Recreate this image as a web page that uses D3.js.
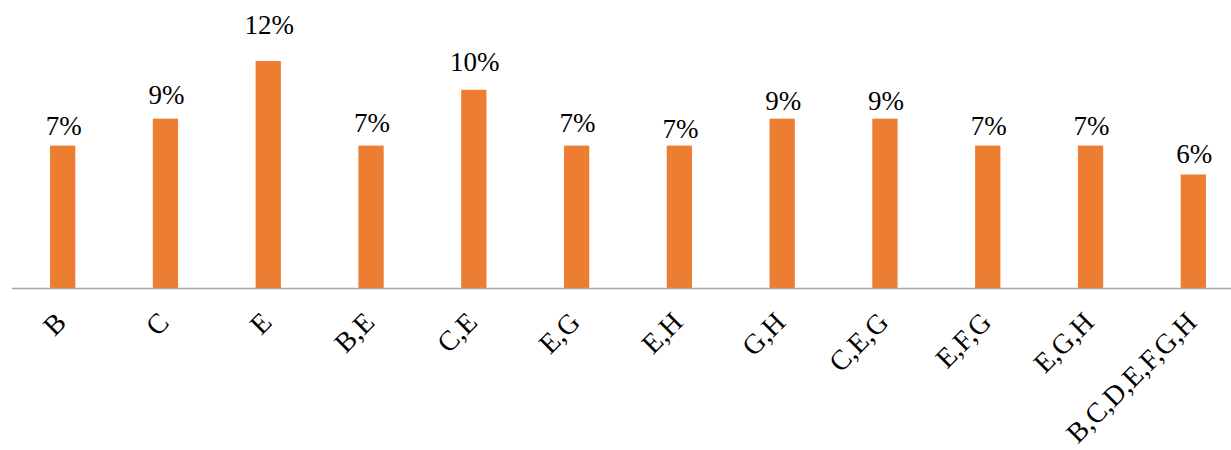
<!DOCTYPE html>
<html>
<head>
<meta charset="utf-8">
<script src="https://cdn.jsdelivr.net/npm/d3@7/dist/d3.min.js"></script>
<style>
  html, body { margin: 0; padding: 0; background: #ffffff; }
  svg { display: block; }
</style>
</head>
<body>
<svg id="chart" width="1231" height="450"></svg>
<script>
// Share of each combination
const categories = ["B", "C", "E", "B,E", "C,E", "E,G", "E,H", "G,H", "C,E,G", "E,F,G", "E,G,H", "B,C,D,E,F,G,H"];
const values = [0.074, 0.088, 0.118, 0.074, 0.103, 0.074, 0.074, 0.088, 0.088, 0.074, 0.074, 0.059];
const yDomain = [0, 0.14];

// Lift of each value label above its bar (px), as hand-placed in the layout
const labelLift = [11, 14.7, 27, 13.3, 18.6, 13.3, 7.7, 8.7, 8.7, 11, 11, 11.4];

const svg = d3.select("#chart");
const baseY = 288;
const valueFont = 27;
const catFont = 28;
const serif = "'Liberation Serif', 'Times New Roman', Times, serif";

const x = d3.scaleBand()
  .domain(categories)
  .range([11.3, 1244.7])
  .paddingInner(0.754)
  .paddingOuter(0.377);

const y = d3.scaleLinear()
  .domain(yDomain)
  .range([baseY, baseY - 0.14 * 1924]);

const data = categories.map((c, i) => ({ cat: c, val: values[i], lift: labelLift[i] }));
const pct = d3.format(".0%");

// Bars
svg.append("g")
  .selectAll("rect")
  .data(data)
  .join("rect")
  .attr("x", d => x(d.cat))
  .attr("y", d => y(d.val))
  .attr("width", x.bandwidth())
  .attr("height", d => y(0) - y(d.val))
  .attr("fill", "#ED7D31");

// Value labels
svg.append("g")
  .selectAll("text")
  .data(data)
  .join("text")
  .attr("x", d => x(d.cat) + x.bandwidth() / 2 + 1)
  .attr("y", d => y(d.val) - d.lift)
  .attr("text-anchor", "middle")
  .attr("fill", "#000")
  .style("font-family", serif)
  .style("font-size", valueFont + "px")
  .text(d => pct(d.val));

// Category axis
const axis = svg.append("g")
  .attr("transform", `translate(0,${baseY})`)
  .call(d3.axisBottom(x).tickSize(0).tickSizeOuter(0))
  .attr("font-family", serif);

axis.select(".domain")
  .attr("stroke", "#A6A6A6")
  .attr("stroke-width", 1.5);

axis.selectAll(".tick text")
  .attr("x", null)
  .attr("y", 0)
  .attr("dy", null)
  .attr("text-anchor", "end")
  .attr("transform", "translate(5,36) rotate(-45)")
  .style("font-size", catFont + "px")
  .style("font-family", serif)
  .attr("fill", "#000");
</script>
</body>
</html>
